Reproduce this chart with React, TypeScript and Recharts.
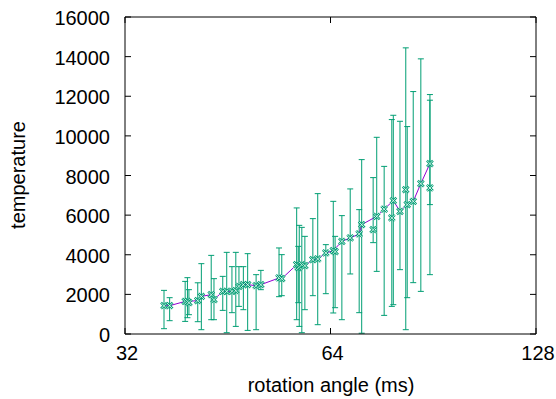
import React from 'react';
import { ScatterChart, Scatter, XAxis, YAxis, ErrorBar } from 'recharts';

// rotation angle (ms) of each measurement
const xs = [36.5, 37.2, 39.2, 39.5, 39.7, 40.9, 41.4, 42.8, 43.2, 44.5, 45.1, 45.9, 46.5, 47.0, 47.7, 48.4, 49.8, 50.6, 53.8, 54.3, 57.1, 57.4, 57.6, 58.1, 58.7, 60.3, 61.3, 63.0, 64.6, 65.0, 66.5, 68.4, 70.5, 71.1, 73.9, 74.8, 76.7, 78.7, 79.1, 80.9, 82.5, 82.9, 84.6, 86.8, 89.5, 89.5];
// temperature values
const ys = [1429, 1429, 1646, 1646, 1581, 1682, 1899, 1985, 1732, 2151, 2151, 2151, 2187, 2404, 2490, 2490, 2439, 2490, 2828, 2793, 3500, 3348, 3384, 3500, 3449, 3752, 3788, 4091, 4207, 4156, 4676, 4848, 5050, 5520, 5267, 5939, 6300, 5858, 6732, 6191, 7287, 6530, 6696, 7590, 7373, 8600];
const lows = [268, 672, 636, 823, 975, 621, 217, 722, 722, 1192, 66, 1076, 384, 1394, 1227, 182, 217, 2237, 1884, 1934, 722, 1581, 384, 66, 1227, 1934, 470, 2035, 1061, 1328, 722, 3030, 1076, 40, 4611, 3161, 940, 1394, 1480, 3247, 217, 1833, 2591, 2151, 2995, 6530];
const highs = [2202, 1833, 2656, 2843, 2237, 2585, 3550, 3969, 2793, 2909, 4121, 3399, 4121, 3399, 3399, 4055, 2995, 3212, 4343, 4005, 6363, 4424, 5484, 5383, 4929, 5823, 7085, 4510, 6696, 4929, 5974, 7323, 6277, 8802, 7893, 9928, 8460, 10822, 11040, 10736, 14443, 10469, 12236, 13888, 12085, 11800];

// connecting line
const lineXs = [36.5, 37.2, 39.2, 39.5, 40.9, 41.4, 42.8, 43.2, 44.5, 45.1, 45.9, 46.5, 47.0, 47.7, 48.4, 49.8, 50.6, 53.8, 54.3, 57.1, 57.6, 58.1, 58.7, 60.3, 61.3, 63.0, 64.6, 66.5, 68.4, 70.5, 71.1, 74.8, 76.7, 79.1, 80.9, 82.9, 84.6, 86.8, 89.5];
const lineYs = [1429, 1429, 1646, 1646, 1682, 1899, 1985, 1732, 2151, 2151, 2151, 2187, 2404, 2490, 2490, 2439, 2490, 2828, 2793, 3500, 3384, 3500, 3449, 3752, 3788, 4091, 4207, 4676, 4848, 5050, 5520, 5939, 6300, 6732, 6191, 6530, 6696, 7590, 8600];

const xTicks = [32, 64, 128];
const yTicks = [0, 2000, 4000, 6000, 8000, 10000, 12000, 14000, 16000];
const xLabel = 'rotation angle (ms)';
const yLabel = 'temperature';

const FONT = '"Liberation Sans", Arial, Helvetica, sans-serif';
const GREEN = '#009e73';
const PURPLE = '#9400d3';
const FS = 20;
const TICK = 6;

const errData = xs.map((x, i) => ({ x, y: ys[i], err: [ys[i] - lows[i], highs[i] - ys[i]] }));
const lineData = lineXs.map((x, i) => ({ x, y: lineYs[i] }));

const Empty = () => <g />;

const XMark = (props: any) => {
  const { cx, cy } = props;
  if (cx == null || cy == null) return <g />;
  const s = 3;
  const d = `M${cx - s},${cy - s}L${cx + s},${cy + s}M${cx - s},${cy + s}L${cx + s},${cy - s}`;
  return (
    <g>
      <path d={d} stroke={GREEN} strokeWidth={2.4} fill="none" />
      <path d={d} stroke="#ffffff" strokeWidth={0.8} fill="none" />
    </g>
  );
};

const BottomTick = (props: any) => {
  const { x, y, payload } = props;
  return (
    <g>
      <line x1={x} x2={x} y1={y} y2={y - TICK} stroke="#000" strokeWidth={1} />
      <text x={x + 2} y={y + 25.5} textAnchor="middle" fontSize={FS} fontFamily={FONT} fill="#000">
        {payload.value}
      </text>
    </g>
  );
};

const TopTick = (props: any) => {
  const { x, y } = props;
  return <line x1={x} x2={x} y1={y} y2={y + TICK} stroke="#000" strokeWidth={1} />;
};

const LeftTick = (props: any) => {
  const { x, y, payload } = props;
  return (
    <g>
      <line x1={x} x2={x + TICK} y1={y} y2={y} stroke="#000" strokeWidth={1} />
      <text x={x - 15} y={y + 8} textAnchor="end" fontSize={FS} fontFamily={FONT} fill="#000">
        {payload.value}
      </text>
    </g>
  );
};

const RightTick = (props: any) => {
  const { x, y } = props;
  return <line x1={x - TICK} x2={x} y1={y} y2={y} stroke="#000" strokeWidth={1} />;
};

export default function App() {
  const W = 556;
  const H = 399;
  return (
    <div style={{ position: 'absolute', left: 0, top: 0, width: W, height: H, background: '#fff' }}>
      <ScatterChart width={W} height={H} margin={{ top: 0, right: 0, bottom: 0, left: 0 }}>
        <XAxis
          xAxisId="b"
          dataKey="x"
          type="number"
          scale="log"
          domain={[32, 128]}
          ticks={xTicks}
          interval={0}
          allowDataOverflow
          height={65}
          orientation="bottom"
          tickLine={false}
          tickSize={0}
          tickMargin={0}
          axisLine={{ stroke: '#000', strokeWidth: 1 }}
          tick={<BottomTick />}
        />
        <XAxis
          xAxisId="t"
          dataKey="x"
          type="number"
          scale="log"
          domain={[32, 128]}
          ticks={xTicks}
          interval={0}
          allowDataOverflow
          height={17}
          orientation="top"
          tickLine={false}
          tickSize={0}
          tickMargin={0}
          axisLine={{ stroke: '#000', strokeWidth: 1 }}
          tick={<TopTick />}
        />
        <YAxis
          yAxisId="l"
          dataKey="y"
          type="number"
          domain={[0, 16000]}
          ticks={yTicks}
          interval={0}
          allowDataOverflow
          width={125}
          orientation="left"
          tickLine={false}
          tickSize={0}
          tickMargin={0}
          axisLine={{ stroke: '#000', strokeWidth: 1 }}
          tick={<LeftTick />}
        />
        <YAxis
          yAxisId="r"
          dataKey="y"
          type="number"
          domain={[0, 16000]}
          ticks={yTicks}
          interval={0}
          allowDataOverflow
          width={20}
          orientation="right"
          tickLine={false}
          tickSize={0}
          tickMargin={0}
          axisLine={{ stroke: '#000', strokeWidth: 1 }}
          tick={<RightTick />}
        />
        <Scatter xAxisId="b" yAxisId="l" data={errData} shape={<Empty />} isAnimationActive={false}>
          <ErrorBar dataKey="err" direction="y" width={3} stroke={GREEN} strokeWidth={1} isAnimationActive={false} />
        </Scatter>
        <Scatter
          xAxisId="b"
          yAxisId="l"
          data={lineData}
          shape={<Empty />}
          line={{ stroke: PURPLE, strokeWidth: 1 }}
          lineType="joint"
          isAnimationActive={false}
        />
        <Scatter xAxisId="b" yAxisId="l" data={errData} shape={<XMark />} isAnimationActive={false} />
      </ScatterChart>
      <svg width={W} height={H} style={{ position: 'absolute', left: 0, top: 0, pointerEvents: 'none' }}>
        <text x={331} y={391.5} textAnchor="middle" fontSize={FS} fontFamily={FONT} fill="#000">
          {xLabel}
        </text>
        <text
          transform="translate(25,175) rotate(-90)"
          textAnchor="middle"
          fontSize={FS}
          fontFamily={FONT}
          fill="#000"
        >
          {yLabel}
        </text>
      </svg>
    </div>
  );
}
